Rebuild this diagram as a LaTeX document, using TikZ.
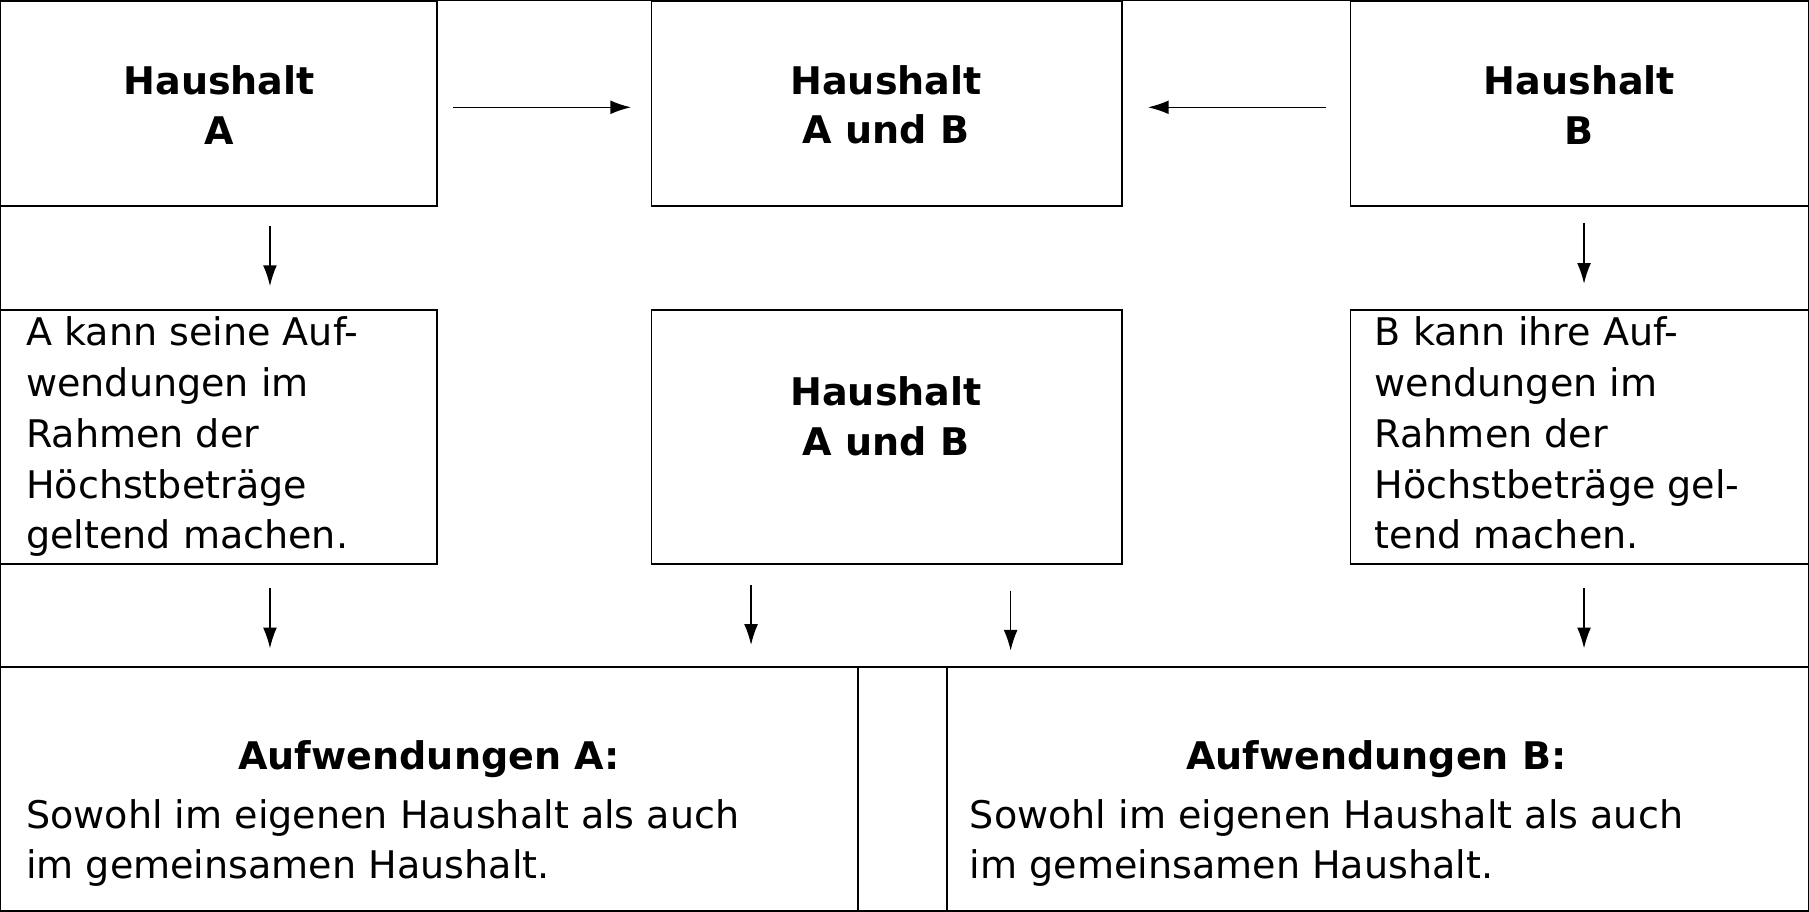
\documentclass[tikz,border=0pt]{standalone}
\usepackage{fontspec}
\setmainfont{DejaVu Sans}
\usetikzlibrary{arrows.meta}
\begin{document}
\begin{tikzpicture}[x=1pt,y=-1pt,line width=1.3pt,
  box/.style={draw,line width=1.3pt,inner sep=0pt},
  hd/.style={font=\fontsize{33}{43}\selectfont\bfseries,align=center},
  tx/.style={font=\fontsize{33}{44}\selectfont,align=left,anchor=north west,inner sep=0pt},
  arr/.style={-{Latex[length=18pt,width=12pt]},line width=1.3pt}]
\useasboundingbox (0,0) rectangle (1568,790);
\draw[line width=2pt] (0,0) rectangle (1568,790);
\draw (0,578) -- (1568,578);
\node[box,minimum width=378pt,minimum height=178pt,anchor=north west] (ha) at (0,0) {};
\node[box,minimum width=408pt,minimum height=178pt,anchor=north west] (hab) at (564,0) {};
\node[box,minimum width=398pt,minimum height=178pt,anchor=north west] (hb) at (1170,0) {};
\node[box,minimum width=378pt,minimum height=220pt,anchor=north west] (ma) at (0,268) {};
\node[box,minimum width=408pt,minimum height=220pt,anchor=north west] (mab) at (564,268) {};
\node[box,minimum width=398pt,minimum height=220pt,anchor=north west] (mb) at (1170,268) {};
\node[box,minimum width=743pt,minimum height=212pt,anchor=north west] (ba) at (0,578) {};
\node[box,minimum width=748pt,minimum height=212pt,anchor=north west] (bb) at (820,578) {};
\node[hd] (tha) at (190,91) {Haushalt\\A};
\node[hd] (thab) at (768,91) {Haushalt\\A und B};
\node[hd] (thb) at (1369,91) {Haushalt\\B};
\node[hd] (tmab) at (768,361) {Haushalt\\A und B};
\node[tx] (tma) at (22,274) {A kann seine Auf-\\wendungen im\\Rahmen der\\Höchstbeträge\\geltend machen.};
\node[tx] (tmb) at (1191,274) {B kann ihre Auf-\\wendungen im\\Rahmen der\\Höchstbeträge gel-\\tend machen.};
\node[hd] (tba) at (372,658) {Aufwendungen A:};
\node[tx] (sba) at (22,692) {Sowohl im eigenen Haushalt als auch\\im gemeinsamen Haushalt.};
\node[hd] (tbb) at (1193,658) {Aufwendungen B:};
\node[tx] (sbb) at (840,692) {Sowohl im eigenen Haushalt als auch\\im gemeinsamen Haushalt.};
\coordinate (a1s) at (393,93); \coordinate (a1e) at (547,93);
\coordinate (a2s) at (1149,93); \coordinate (a2e) at (995,93);
\draw[arr] (a1s) -- (a1e);
\draw[arr] (a2s) -- (a2e);
\coordinate (v1s) at (234,196); \coordinate (v1e) at (234,248);
\coordinate (v2s) at (1373,193); \coordinate (v2e) at (1373,246);
\coordinate (v3s) at (234,510); \coordinate (v3e) at (234,562);
\coordinate (v4s) at (651,507); \coordinate (v4e) at (651,559);
\coordinate (v5s) at (876,512); \coordinate (v5e) at (876,564);
\coordinate (v6s) at (1373,510); \coordinate (v6e) at (1373,562);
\foreach \i in {1,...,6} \draw[arr] (v\i s) -- (v\i e);
\end{tikzpicture}
\end{document}
